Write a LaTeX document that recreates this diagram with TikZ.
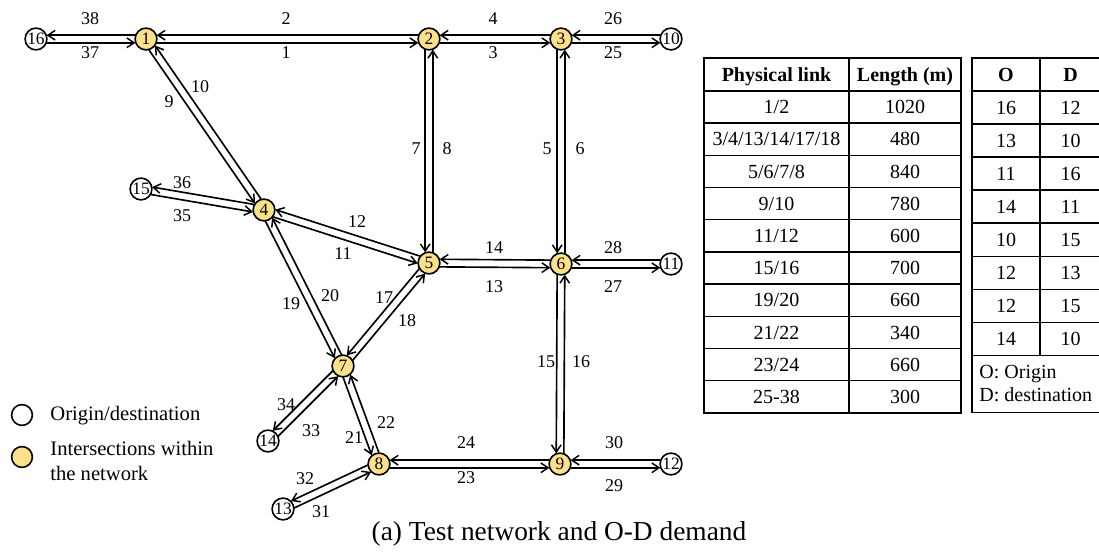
\documentclass[tikz,border=0pt]{standalone}
\usepackage{fontspec}
\setmainfont{Liberation Serif}
\usetikzlibrary{calc,arrows.meta}
\definecolor{junction}{RGB}{252,224,140}
\tikzset{
  flow/.style={line width=0.82pt,-{Straight Barb[length=3.6pt,width=4.8pt,line width=0.75pt]}},
  od/.style={circle,draw,line width=0.8pt,minimum size=10.9pt,inner sep=0pt,
    font=\fontsize{8.7}{9}\selectfont},
  jn/.style={od,fill=junction},
  lbl/.style={anchor=base,yshift=-3pt,inner sep=0pt,font=\fontsize{9}{10}\selectfont},
  cell/.style={anchor=base,yshift=-3.3pt,inner sep=0pt,font=\fontsize{10}{12}\selectfont},
  head/.style={cell,font=\fontsize{10}{12}\selectfont\bfseries},
  note/.style={anchor=base west,inner sep=0pt,font=\fontsize{10}{12}\selectfont},
  grid/.style={line width=0.7pt},
}
% two opposite one-way links between two nodes, traffic keeping to the right
\newcommand\twoway[2]{%
  \path ($(#1)!5.3pt!(#2)$) coordinate (tw-a) ($(#2)!5.3pt!(#1)$) coordinate (tw-b);
  \draw[flow] ($(tw-a)!1.9pt!-90:(tw-b)$) -- ($(tw-b)!1.9pt!90:(tw-a)$);
  \draw[flow] ($(tw-b)!1.9pt!-90:(tw-a)$) -- ($(tw-a)!1.9pt!90:(tw-b)$);
}
\begin{document}
\begin{tikzpicture}[x=0.5pt,y=-0.5pt]
\useasboundingbox (0,0) rectangle (1099,555);

% ---------- network nodes ----------
\node[jn] (n1) at (146,39) {1};
\node[jn] (n2) at (429,39) {2};
\node[jn] (n3) at (561,39) {3};
\node[jn] (n4) at (264,210) {4};
\node[jn] (n5) at (429,263) {5};
\node[jn] (n6) at (561,264) {6};
\node[jn] (n7) at (343,366) {7};
\node[jn] (n8) at (379,464) {8};
\node[jn] (n9) at (560,464) {9};
\node[od] (n10) at (671,39) {10};
\node[od] (n11) at (671,264) {11};
\node[od] (n12) at (671,464) {12};
\node[od] (n13) at (283,509) {13};
\node[od] (n14) at (268,441) {14};
\node[od] (n15) at (141,189) {15};
\node[od] (n16) at (36,39) {16};

% ---------- links ----------
\twoway{n1}{n2}
\twoway{n2}{n3}
\twoway{n3}{n10}
\twoway{n16}{n1}
\twoway{n1}{n4}
\twoway{n2}{n5}
\twoway{n3}{n6}
\twoway{n15}{n4}
\twoway{n4}{n5}
\twoway{n5}{n6}
\twoway{n6}{n11}
\twoway{n4}{n7}
\twoway{n5}{n7}
\twoway{n6}{n9}
\twoway{n7}{n14}
\twoway{n7}{n8}
\twoway{n8}{n9}
\twoway{n9}{n12}
\twoway{n13}{n8}

% ---------- link numbers ----------
\node[lbl] (l1) at (286,53) {1};
\node[lbl] (l2) at (286,19) {2};
\node[lbl] (l3) at (493,53) {3};
\node[lbl] (l4) at (493,19) {4};
\node[lbl] (l5) at (547,149) {5};
\node[lbl] (l6) at (580,149) {6};
\node[lbl] (l7) at (416,149) {7};
\node[lbl] (l8) at (447,149) {8};
\node[lbl] (l9) at (169,102) {9};
\node[lbl] (l10) at (200,87) {10};
\node[lbl] (l11) at (343,254) {11};
\node[lbl] (l12) at (357,222) {12};
\node[lbl] (l13) at (494,287) {13};
\node[lbl] (l14) at (494,248) {14};
\node[lbl] (l15) at (546,362) {15};
\node[lbl] (l16) at (581,362) {16};
\node[lbl] (l17) at (384,298) {17};
\node[lbl] (l18) at (407,321) {18};
\node[lbl] (l19) at (291,304) {19};
\node[lbl] (l20) at (330,296) {20};
\node[lbl] (l21) at (354,438) {21};
\node[lbl] (l22) at (386,423) {22};
\node[lbl] (l23) at (466,478) {23};
\node[lbl] (l24) at (466,443) {24};
\node[lbl] (l25) at (613,53) {25};
\node[lbl] (l26) at (613,19) {26};
\node[lbl] (l27) at (613,287) {27};
\node[lbl] (l28) at (613,248) {28};
\node[lbl] (l29) at (614,486) {29};
\node[lbl] (l30) at (614,443) {30};
\node[lbl] (l31) at (321,512) {31};
\node[lbl] (l32) at (305,479) {32};
\node[lbl] (l33) at (311,431) {33};
\node[lbl] (l34) at (286,405) {34};
\node[lbl] (l35) at (182,216) {35};
\node[lbl] (l36) at (182,183) {36};
\node[lbl] (l37) at (90,53) {37};
\node[lbl] (l38) at (90,19) {38};

% ---------- legend ----------
\node[od,minimum size=10.4pt] (lg-od) at (22,415) {};
\node[jn,minimum size=10.4pt] (lg-jn) at (22,457) {};
\node[note,font=\fontsize{10.3}{12.5}\selectfont] (lg-odt) at (50,420.5) {Origin/destination};
\node[note,font=\fontsize{10.3}{12.5}\selectfont] (lg-jnt1) at (50,455.5) {Intersections within};
\node[note,font=\fontsize{10.3}{12.5}\selectfont] (lg-jnt2) at (50,481) {the network};

% ---------- link length table ----------
\draw[grid] (704,58) rectangle (961,413);
\draw[grid] (849,58) -- (849,413);
\foreach \k in {0,...,9} \draw[grid] (704,{91+32.2*\k}) -- (961,{91+32.2*\k});
\node[head] (th-a) at (776.5,74.5) {Physical link};
\node[head] (th-b) at (905,74.5) {Length (m)};
\node[cell] (ta1) at (776.5,107.1) {1/2};
\node[cell] (tb1) at (905,107.1) {1020};
\node[cell] (ta2) at (776.5,139.3) {3/4/13/14/17/18};
\node[cell] (tb2) at (905,139.3) {480};
\node[cell] (ta3) at (776.5,171.5) {5/6/7/8};
\node[cell] (tb3) at (905,171.5) {840};
\node[cell] (ta4) at (776.5,203.7) {9/10};
\node[cell] (tb4) at (905,203.7) {780};
\node[cell] (ta5) at (776.5,235.9) {11/12};
\node[cell] (tb5) at (905,235.9) {600};
\node[cell] (ta6) at (776.5,268.1) {15/16};
\node[cell] (tb6) at (905,268.1) {700};
\node[cell] (ta7) at (776.5,300.3) {19/20};
\node[cell] (tb7) at (905,300.3) {660};
\node[cell] (ta8) at (776.5,332.5) {21/22};
\node[cell] (tb8) at (905,332.5) {340};
\node[cell] (ta9) at (776.5,364.7) {23/24};
\node[cell] (tb9) at (905,364.7) {660};
\node[cell] (ta10) at (776.5,396.9) {25-38};
\node[cell] (tb10) at (905,396.9) {300};

% ---------- O-D demand table ----------
\draw[grid] (972,58) rectangle (1101,412.5);
\draw[grid] (1040,58) -- (1040,355.4);
\foreach \k in {0,...,8} \draw[grid] (972,{91+33.05*\k}) -- (1101,{91+33.05*\k});
\node[head] (oh) at (1006,74.5) {O};
\node[head] (dh) at (1070.5,74.5) {D};
\node[cell] (o1) at (1006,107.5) {16};
\node[cell] (d1) at (1070.5,107.5) {12};
\node[cell] (o2) at (1006,140.6) {13};
\node[cell] (d2) at (1070.5,140.6) {10};
\node[cell] (o3) at (1006,173.6) {11};
\node[cell] (d3) at (1070.5,173.6) {16};
\node[cell] (o4) at (1006,206.7) {14};
\node[cell] (d4) at (1070.5,206.7) {11};
\node[cell] (o5) at (1006,239.7) {10};
\node[cell] (d5) at (1070.5,239.7) {15};
\node[cell] (o6) at (1006,272.8) {12};
\node[cell] (d6) at (1070.5,272.8) {13};
\node[cell] (o7) at (1006,305.8) {12};
\node[cell] (d7) at (1070.5,305.8) {15};
\node[cell] (o8) at (1006,338.9) {14};
\node[cell] (d8) at (1070.5,338.9) {10};
\node[note] (key-o) at (979,378.5) {O: Origin};
\node[note] (key-d) at (979,401.8) {D: destination};

% ---------- caption ----------
\node[anchor=base,inner sep=0pt,font=\fontsize{13.7}{16}\selectfont] (cap) at (559,541)
  {(a) Test network and O-D demand};
\end{tikzpicture}
\end{document}
